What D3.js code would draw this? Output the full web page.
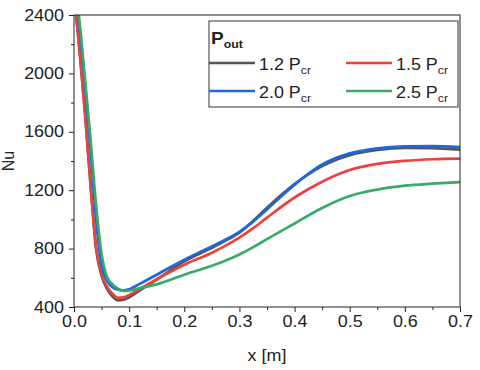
<!DOCTYPE html>
<html>
<head>
<meta charset="utf-8">
<script src="https://cdn.jsdelivr.net/npm/d3@7"></script>
<style>
  body { margin: 0; background: #fff; }
  svg text { font-family: "Liberation Sans", Arial, sans-serif; fill: #222; }
</style>
</head>
<body>
<div id="chart"></div>
<script>
// Nu along x for four outlet pressures
const xs = [0, 0.01, 0.02, 0.03, 0.04, 0.05, 0.06, 0.07, 0.08, 0.09, 0.10, 0.12, 0.15,
            0.20, 0.25, 0.275, 0.30, 0.325, 0.35, 0.40, 0.45, 0.50, 0.55, 0.60, 0.65, 0.70];

const nu12 = [2550, 2160, 1725, 1235, 800, 615, 525, 472, 446, 450, 466, 515, 588,
              712, 805, 855, 910, 990, 1080, 1242, 1365, 1440, 1476, 1490, 1488, 1478];
const nu15 = [2555, 2165, 1730, 1245, 815, 630, 540, 490, 463, 466, 482, 525, 590,
              690, 772, 820, 875, 940, 1012, 1150, 1258, 1338, 1380, 1401, 1412, 1416];
const nu20 = [2620, 2320, 1920, 1480, 1000, 690, 580, 535, 518, 514, 522, 560, 621,
              724, 815, 862, 915, 985, 1068, 1238, 1376, 1452, 1487, 1500, 1502, 1495];
const nu25 = [2650, 2355, 1960, 1550, 1100, 765, 605, 555, 525, 510, 512, 530, 555,
              621, 682, 718, 760, 810, 865, 972, 1078, 1160, 1204, 1231, 1245, 1256];

const seriesNames = ["1.2", "1.5", "2.0", "2.5"];
const seriesValues = [nu12, nu15, nu20, nu25];
const seriesColors = ["#555555", "#ef4040", "#1f68dc", "#3aa96a"];

const xTicks = [0, 0.1, 0.2, 0.3, 0.4, 0.5, 0.6, 0.7];
const xMinor = [0.05, 0.15, 0.25, 0.35, 0.45, 0.55, 0.65];
const yTicks = [400, 800, 1200, 1600, 2000, 2400];
const yMinor = [600, 1000, 1400, 1800, 2200];

const width = 480, height = 370;
const margin = { top: 15, right: 20, bottom: 63, left: 74 };
const innerW = width - margin.left - margin.right;
const innerH = height - margin.top - margin.bottom;
const STRETCH = 1.12; // glyphs in the reference are a little wider than Arial

const svg = d3.select("#chart").append("svg")
    .attr("width", width).attr("height", height);

const g = svg.append("g")
    .attr("transform", `translate(${margin.left},${margin.top})`);

const x = d3.scaleLinear().domain([0, 0.7]).range([0, innerW]);
const y = d3.scaleLinear().domain([400, 2400]).range([innerH, 0]);

g.append("clipPath").attr("id", "plot-clip")
    .append("rect").attr("width", innerW).attr("height", innerH);

function widen(sel) {
    sel.each(function () {
        const len = this.getComputedTextLength();
        this.setAttribute("textLength", len * STRETCH);
        this.setAttribute("lengthAdjust", "spacingAndGlyphs");
    });
}

// Axes
const xAxis = g.append("g")
    .attr("transform", `translate(0,${innerH})`)
    .call(d3.axisBottom(x).tickValues(xTicks).tickFormat(d3.format(".1f"))
        .tickSize(5).tickPadding(4));
const xAxisMinor = g.append("g")
    .attr("transform", `translate(0,${innerH})`)
    .call(d3.axisBottom(x).tickValues(xMinor).tickFormat("").tickSize(3));
const yAxis = g.append("g")
    .call(d3.axisLeft(y).tickValues(yTicks).tickFormat(d3.format("d"))
        .tickSize(5).tickPadding(5));
const yAxisMinor = g.append("g")
    .call(d3.axisLeft(y).tickValues(yMinor).tickFormat("").tickSize(3));

for (const ax of [xAxis, xAxisMinor, yAxis, yAxisMinor]) {
    ax.select(".domain").remove();
    ax.selectAll(".tick line").attr("stroke", "#222");
    ax.selectAll(".tick text")
        .attr("font-size", 16)
        .attr("font-family", "Liberation Sans, Arial, sans-serif")
        .attr("fill", "#222");
}
widen(xAxis.selectAll(".tick text"));
widen(yAxis.selectAll(".tick text"));

// Lines
const line = d3.line()
    .x((d, i) => x(xs[i]))
    .y((d) => y(d))
    .curve(d3.curveMonotoneX);

const lines = g.append("g").attr("clip-path", "url(#plot-clip)");
seriesValues.forEach((vals, k) => {
    lines.append("path")
        .datum(vals)
        .attr("fill", "none")
        .attr("stroke", seriesColors[k])
        .attr("stroke-width", 2.7)
        .attr("stroke-linejoin", "round")
        .attr("d", line);
});

// Frame
g.append("rect")
    .attr("width", innerW).attr("height", innerH)
    .attr("fill", "none").attr("stroke", "#222").attr("stroke-width", 1);

// Axis titles
svg.append("text")
    .attr("x", margin.left + innerW / 2)
    .attr("y", 361)
    .attr("text-anchor", "middle")
    .attr("font-size", 16)
    .text("x [m]")
    .call(widen);

svg.append("text")
    .attr("transform", `translate(14,${margin.top + innerH / 2}) rotate(-90)`)
    .attr("text-anchor", "middle")
    .attr("font-size", 16)
    .text("Nu");

// Legend
const legend = svg.append("g").attr("transform", "translate(209,21)");
legend.append("rect")
    .attr("width", 249).attr("height", 86)
    .attr("fill", "#fff").attr("stroke", "#555").attr("stroke-width", 1.2);

const title = legend.append("text")
    .attr("transform", `translate(2,23) scale(${STRETCH},1)`)
    .attr("font-size", 17).attr("font-weight", "bold");
title.append("tspan").text("P");
title.append("tspan").attr("font-size", 11).attr("dy", 4).text("out");

const colX = [0, 137];
const rowY = [42, 70];
seriesNames.forEach((name, k) => {
    const cx = colX[k % 2], cy = rowY[Math.floor(k / 2)];
    legend.append("line")
        .attr("x1", cx).attr("x2", cx + 46)
        .attr("y1", cy).attr("y2", cy)
        .attr("stroke", seriesColors[k]).attr("stroke-width", 2.7);
    const t = legend.append("text")
        .attr("transform", `translate(${cx + 50},${cy + 7}) scale(${STRETCH},1)`)
        .attr("font-size", 16);
    t.append("tspan").text(`${name} P`);
    t.append("tspan").attr("font-size", 11).attr("dy", 4).text("cr");
});
</script>
</body>
</html>
